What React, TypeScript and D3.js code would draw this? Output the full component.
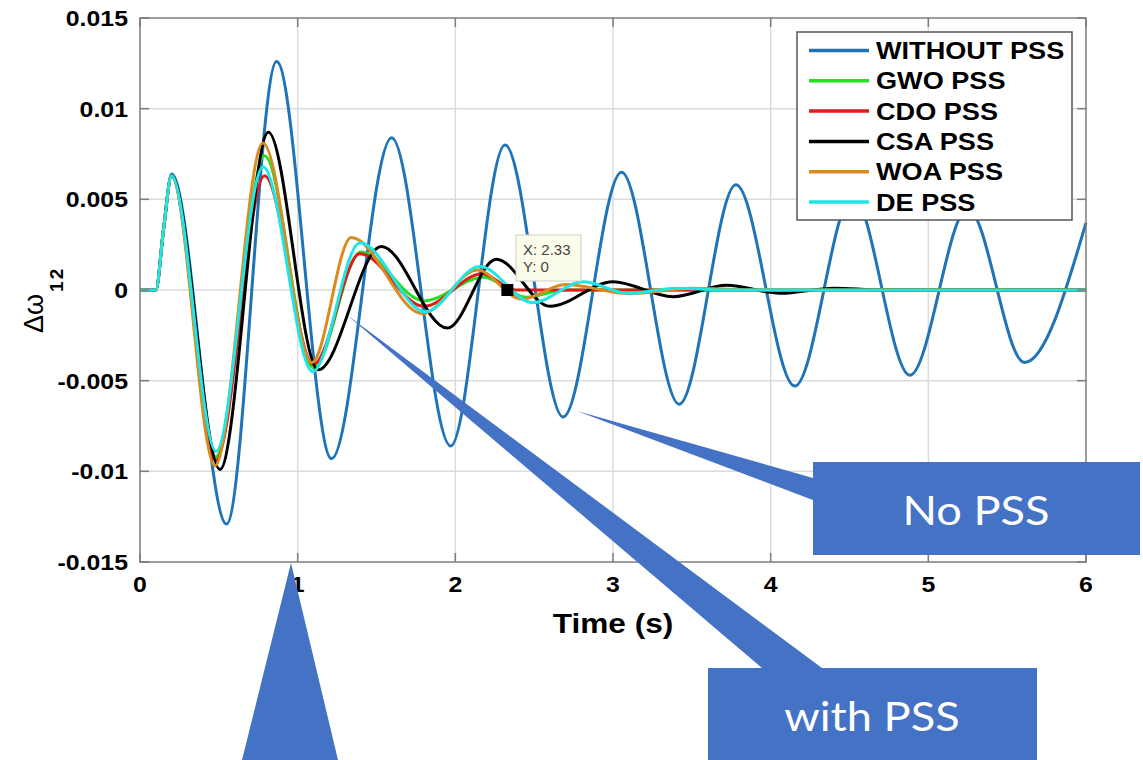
import React from 'react';
import * as d3 from 'd3';

// [time (s), Δω12] — extrema
const withoutPss: [number, number][] = [
  [0, 0], [0.1, 0], [0.15, 0.0034], [0.2, 0.0064], [0.549, -0.0129], [0.867, 0.0126],
  [1.215, -0.0093], [1.596, 0.0084], [1.97, -0.0086], [2.315, 0.008], [2.684, -0.007],
  [3.054, 0.0065], [3.42, -0.0063], [3.78, 0.0058], [4.153, -0.0053], [4.52, 0.0052],
  [4.883, -0.0047], [5.25, 0.0045], [5.61, -0.004], [6.0, 0.0037],
];
const gwoPss: [number, number][] = [
  [0, 0], [0.1, 0], [0.15, 0.0034], [0.2, 0.0063], [0.48, -0.0092], [0.79, 0.0074],
  [1.1, -0.0043], [1.4, 0.0021], [1.8, -0.0006], [2.18, 0.0007], [2.45, -0.0004],
  [2.7, 0], [6, 0],
];
const cdoPss: [number, number][] = [
  [0, 0], [0.1, 0], [0.15, 0.0034], [0.2, 0.0063], [0.48, -0.0094], [0.79, 0.0063],
  [1.1, -0.0041], [1.395, 0.002], [1.8, -0.0009], [2.17, 0.0009], [2.38, 0], [6, 0],
];
const csaPss: [number, number][] = [
  [0, 0], [0.1, 0], [0.15, 0.0034], [0.2, 0.0063], [0.507, -0.0099], [0.814, 0.0087],
  [1.13, -0.0044], [1.53, 0.0024], [1.95, -0.0021], [2.26, 0.0017], [2.6, -0.0009],
  [3.0, 0.00046], [3.38, -0.00037], [3.72, 0.00026], [4.06, -0.00018], [4.4, 0.0001],
  [4.7, 0], [6, 0],
];
const woaPss: [number, number][] = [
  [0, 0], [0.1, 0], [0.15, 0.0034], [0.2, 0.0063], [0.475, -0.0097], [0.78, 0.0081],
  [1.09, -0.004], [1.34, 0.0029], [1.79, -0.0013], [2.14, 0.0011], [2.42, -0.0005],
  [2.7, 0.0003], [3.1, -0.0002], [3.5, 0.0001], [3.9, 0], [6, 0],
];
const dePss: [number, number][] = [
  [0, 0], [0.1, 0], [0.15, 0.0034], [0.2, 0.0063], [0.482, -0.0089], [0.78, 0.0068],
  [1.095, -0.0045], [1.395, 0.0026], [1.81, -0.0012], [2.155, 0.0013], [2.49, -0.0007],
  [2.81, 0.00045], [3.1, -0.00018], [3.4, 0.0001], [3.7, 0], [6, 0],
];

const legendNames = ['WITHOUT PSS', 'GWO PSS', 'CDO PSS', 'CSA PSS', 'WOA PSS', 'DE PSS'];
const lineColors = ['#1f73b7', '#22e022', '#e31a1c', '#000000', '#d98b1f', '#1fe6e6'];

const xTicks = [0, 1, 2, 3, 4, 5, 6];
const yTicks = [-0.015, -0.01, -0.005, 0, 0.005, 0.01, 0.015];
const yTickLabels = ['-0.015', '-0.01', '-0.005', '0', '0.005', '0.01', '0.015'];

const datatip = { x: 2.33, y: 0 };
const calloutLabels = ['No PSS', 'with PSS'];

const W = 1143, H = 760;
const margin = { top: 18, right: 57, bottom: 198, left: 140 };
const SX = 1.13; // the source text is a bit wide
const axisFont = '"Liberation Sans", Arial, sans-serif';
const boxBlue = '#4472c4';

export default function App() {
  const x = d3.scaleLinear().domain([0, 6]).range([margin.left, W - margin.right]);
  const y = d3.scaleLinear().domain([-0.015, 0.015]).range([H - margin.bottom, margin.top]);
  const line = d3.line<[number, number]>()
    .x(d => x(d[0]))
    .y(d => y(d[1]))
    .curve(d3.curveMonotoneX);

  const series = [withoutPss, gwoPss, cdoPss, csaPss, woaPss, dePss];
  const x0 = x(0), x1 = x(6), yTop = y(0.015), yBot = y(-0.015);

  return (
    <svg width={W} height={H} style={{ position: 'fixed', left: 0, top: 0, background: '#fff' }}>
      {/* grid */}
      <g stroke="#dcdcdc" strokeWidth={1.5}>
        {xTicks.slice(1, -1).map(t => <line key={t} x1={x(t)} x2={x(t)} y1={yTop} y2={yBot} />)}
        {yTicks.slice(1, -1).map(t => <line key={t} x1={x0} x2={x1} y1={y(t)} y2={y(t)} />)}
      </g>

      {/* curves */}
      <g fill="none" strokeWidth={3} strokeLinejoin="round">
        {series.map((s, i) => <path key={i} d={line(s)!} stroke={lineColors[i]} />)}
      </g>

      {/* axes box + ticks */}
      <g stroke="#7d7d7d" strokeWidth={1.5} fill="none">
        <rect x={x0} y={yTop} width={x1 - x0} height={yBot - yTop} />
        {xTicks.map(t => (
          <g key={t}>
            <line x1={x(t)} x2={x(t)} y1={yBot} y2={yBot - 9} />
            <line x1={x(t)} x2={x(t)} y1={yTop} y2={yTop + 9} />
          </g>
        ))}
        {yTicks.map(t => (
          <g key={t}>
            <line x1={x0} x2={x0 + 9} y1={y(t)} y2={y(t)} />
            <line x1={x1} x2={x1 - 9} y1={y(t)} y2={y(t)} />
          </g>
        ))}
      </g>

      {/* tick labels */}
      <g fontFamily={axisFont} fontWeight="bold" fontSize={22} fill="#000">
        {xTicks.map(t => (
          <text key={t} transform={`translate(${x(t)},${yBot + 30}) scale(${SX},1)`} textAnchor="middle">{t}</text>
        ))}
        {yTickLabels.map((lab, i) => (
          <text key={lab} transform={`translate(${x0 - 12},${y(yTicks[i]) + 8}) scale(${SX},1)`} textAnchor="end">{lab}</text>
        ))}
      </g>
      <text transform={`translate(${x(3)},${yBot + 71}) scale(${SX},1)`} textAnchor="middle"
        fontFamily={axisFont} fontWeight="bold" fontSize={28}>Time (s)</text>
      <text transform={`translate(43,${y(0) + 43}) rotate(-90)`} fontFamily={axisFont} fill="#000">
        <tspan fontSize={27}>Δω</tspan>
        <tspan fontSize={19} fontWeight="bold" dx={2} dy={20} letterSpacing={2}>12</tspan>
      </text>

      {/* datatip */}
      <rect x={x(datatip.x) - 6} y={y(datatip.y) - 6} width={12} height={12} fill="#000" />
      <rect x={516} y={235} width={65} height={46} fill="#fcfcea" stroke="#cfcfc4" strokeWidth={1} />
      <g fontFamily={axisFont} fontSize={15} fill="#444">
        <text x={523} y={255}>X: {datatip.x}</text>
        <text x={523} y={272}>Y: {datatip.y}</text>
      </g>

      {/* legend */}
      <g>
        <rect x={797} y={32} width={275} height={188} fill="#fff" stroke="#555" strokeWidth={1.5} />
        {legendNames.map((name, i) => {
          const ry = 50.5 + i * 30.3;
          return (
            <g key={name}>
              <line x1={809} x2={869} y1={ry} y2={ry} stroke={lineColors[i]} strokeWidth={3.5} />
              <text transform={`translate(876,${ry + 8.6}) scale(${SX},1)`} fontFamily={axisFont}
                fontWeight="bold" fontSize={24} fill="#000">{name}</text>
            </g>
          );
        })}
      </g>

      {/* callouts */}
      <g fill={boxBlue}>
        <polygon points="577,411 813,478 813,500" />
        <rect x={813} y={462} width={327} height={93} />
        <polygon points="347,315 762,668 822,668" />
        <rect x={708} y={668} width={329} height={92} />
        <polygon points="291,563 242,760 338,760" />
      </g>
      <g fontFamily="Lato, 'Open Sans', sans-serif" fontSize={40} fill="#fff" textAnchor="middle">
        <text transform={`translate(976,${525}) scale(${SX},1)`}>{calloutLabels[0]}</text>
        <text transform={`translate(872,${731}) scale(${SX},1)`}>{calloutLabels[1]}</text>
      </g>
    </svg>
  );
}
